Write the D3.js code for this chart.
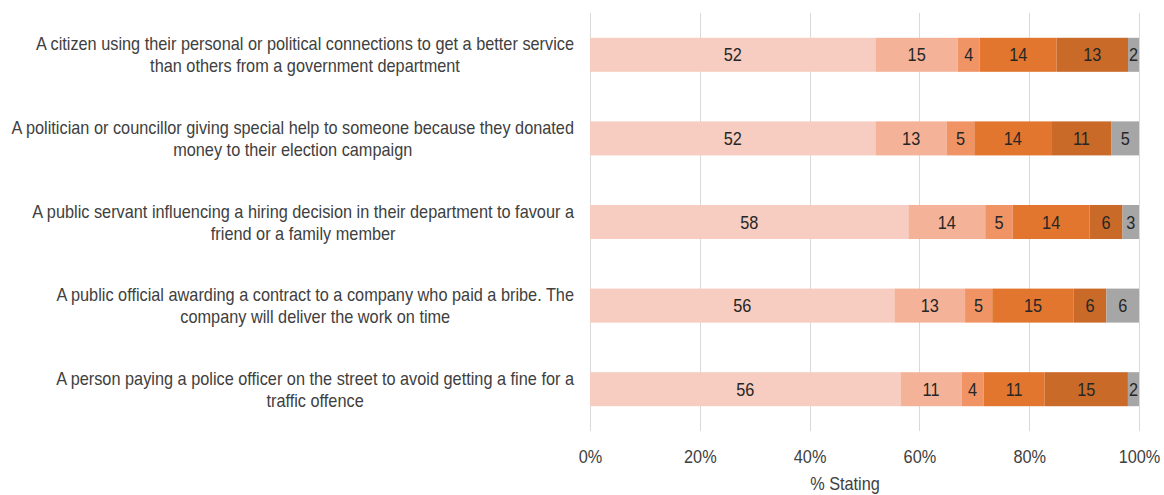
<!DOCTYPE html>
<html>
<head>
<meta charset="utf-8">
<script src="https://cdn.jsdelivr.net/npm/d3@7"></script>
<style>
  html, body { margin: 0; padding: 0; background: #fff; }
  svg text { font-family: "Liberation Sans", Arial, sans-serif; }
</style>
</head>
<body>
<svg id="chart" width="1164" height="495"></svg>
<script>
// Scenario statements (explicit line breaks for the two-line labels)
const categories = [
  "A citizen using their personal or political connections to get a better service\nthan others from a government department",
  "A politician or councillor giving special help to someone because they donated\nmoney to their election campaign",
  "A public servant influencing a hiring decision in their department to favour a\nfriend or a family member",
  "A public official awarding a contract to a company who paid a bribe. The\ncompany will deliver the work on time",
  "A person paying a police officer on the street to avoid getting a fine for a\ntraffic offence"
];

// Response shares per scenario, one array per response level
const level1 = [52, 52, 58, 56, 56];
const level2 = [15, 13, 14, 13, 11];
const level3 = [4, 5, 5, 5, 4];
const level4 = [14, 14, 14, 15, 11];
const level5 = [13, 11, 6, 6, 15];
const level6 = [2, 5, 3, 6, 2];

const seriesKeys = ["level1", "level2", "level3", "level4", "level5", "level6"];
const seriesValues = [level1, level2, level3, level4, level5, level6];
const seriesColors = ["#F6CDC0", "#F4B398", "#F09466", "#E3762F", "#C96A28", "#A6A6A6"];

const tickValues = [0, 0.2, 0.4, 0.6, 0.8, 1.0];
const axisTitle = "% Stating";

const rows = categories.map((c, i) => {
  const r = { category: c };
  seriesKeys.forEach((k, j) => { r[k] = seriesValues[j][i]; });
  return r;
});

const svg = d3.select("#chart");
const FS = 19;

// Condensed look: measure a reference line in the regular face and
// derive a horizontal squeeze factor applied to every text element.
const probe = svg.append("text").attr("font-size", FS).text(categories[0].split("\n")[0]);
const squeezeFactor = 538 / probe.node().getComputedTextLength();
probe.remove();
function squeeze(sel) {
  sel.each(function () {
    const w = this.getComputedTextLength();
    this.__natural = w;
    d3.select(this).attr("textLength", w * squeezeFactor).attr("lengthAdjust", "spacingAndGlyphs");
  });
  return sel;
}

const x = d3.scaleLinear().domain([0, 1]).range([590, 1139]);
const y = d3.scaleBand().domain(categories).range([13, 431])
  .paddingInner(0.593).paddingOuter(0.2965);
const color = d3.scaleOrdinal().domain(seriesKeys).range(seriesColors);

// Vertical gridlines
svg.append("g").selectAll("line").data(tickValues).join("line")
  .attr("x1", d => Math.round(x(d)) + 0.5).attr("x2", d => Math.round(x(d)) + 0.5)
  .attr("y1", 13).attr("y2", 431)
  .attr("stroke", "#D9D9D9").attr("stroke-width", 1);

// 100% stacked bars
const stacked = d3.stack().keys(seriesKeys).offset(d3.stackOffsetExpand)(rows);

const layers = svg.append("g").selectAll("g").data(stacked).join("g")
  .attr("fill", d => color(d.key));

layers.selectAll("rect").data(d => d.map(p => ({ p, key: d.key }))).join("rect")
  .attr("x", d => x(d.p[0]))
  .attr("width", d => x(d.p[1]) - x(d.p[0]))
  .attr("y", d => y(d.p.data.category))
  .attr("height", y.bandwidth());

// Segment value labels
const valueLabels = layers.selectAll("text").data(d => d.map(p => ({ p, key: d.key }))).join("text")
  .attr("x", d => (x(d.p[0]) + x(d.p[1])) / 2)
  .attr("y", d => y(d.p.data.category) + y.bandwidth() / 2)
  .attr("dy", "0.35em")
  .attr("text-anchor", "middle")
  .attr("font-size", FS)
  .attr("fill", "#262626")
  .text(d => d.p.data[d.key]);
squeeze(valueLabels);

// X axis tick labels
const xAxis = d3.axisBottom(x).tickValues(tickValues).tickFormat(d3.format(".0%")).tickSize(0).tickPadding(0);
const ax = svg.append("g").attr("transform", "translate(0,449)").call(xAxis);
ax.select(".domain").remove();
ax.attr("font-family", null).attr("font-size", null);
const tickText = ax.selectAll("text")
  .attr("font-size", FS)
  .attr("fill", "#404040")
  .attr("dy", "0.75em");
squeeze(tickText);

// Axis title
squeeze(svg.append("text")
  .attr("x", 845).attr("y", 490)
  .attr("text-anchor", "middle")
  .attr("font-size", FS)
  .attr("fill", "#404040")
  .text(axisTitle));

// Category labels: centred lines, block right-aligned to the plot
const labelRight = 574;
const lineHeight = 22;
const labels = svg.append("g");
categories.forEach(c => {
  const lines = c.split("\n");
  const cy = y(c) + y.bandwidth() / 2;
  const top = cy - (lines.length - 1) * lineHeight / 2;
  const texts = lines.map((ln, i) => labels.append("text")
    .attr("font-size", FS)
    .attr("fill", "#404040")
    .attr("text-anchor", "middle")
    .attr("y", top + i * lineHeight)
    .attr("dy", "0.35em")
    .text(ln));
  texts.forEach(squeeze);
  const w = d3.max(texts, t => t.node().__natural * squeezeFactor);
  texts.forEach(t => t.attr("x", labelRight - w / 2));
});
</script>
</body>
</html>
